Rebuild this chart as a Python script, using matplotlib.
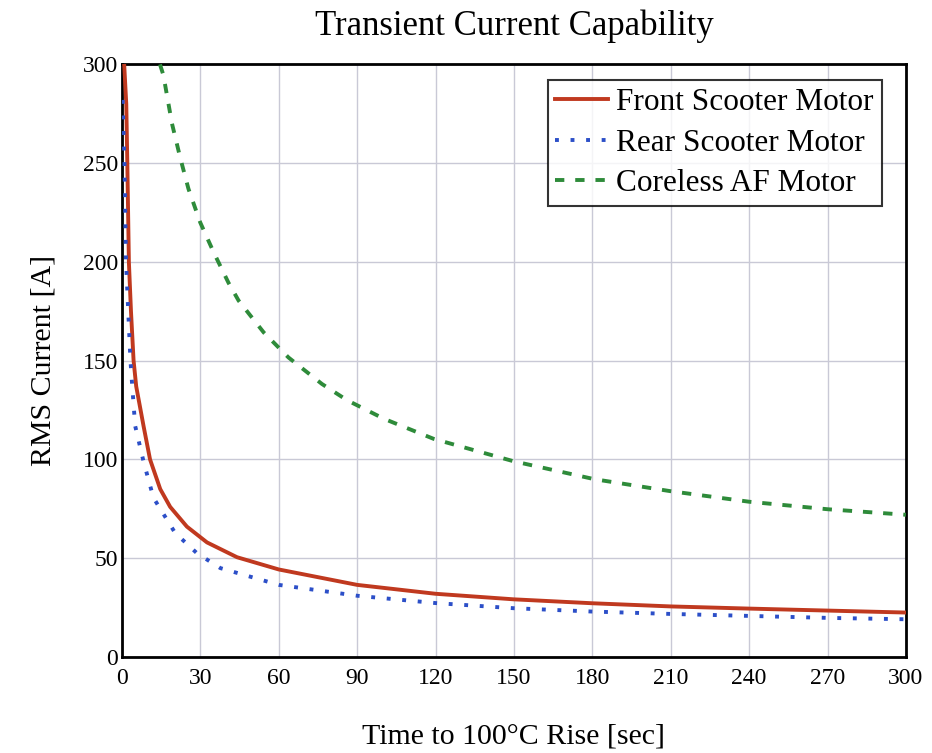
import matplotlib
matplotlib.use("Agg")
import matplotlib.pyplot as plt

plt.rcParams['font.family'] = ['Liberation Serif', 'DejaVu Serif']

# Front Scooter Motor (red, solid)
t_front = [0.8, 1.6, 2.0, 2.6, 3.4, 4.4, 5.4, 8.2, 10.7, 14.6, 18.4, 24.8, 32.5,
           44.0, 60.0, 90.0, 120.0, 149.8, 180.0, 210.0, 240.0, 270.0, 300.0]
i_front = [300, 280, 250, 200, 175, 150, 137, 117, 100, 85, 76, 66, 58,
           50.5, 44.3, 36.5, 32.0, 29.2, 27.2, 25.6, 24.5, 23.5, 22.5]

# Rear Scooter Motor (blue, dotted)
t_rear = [0.2, 0.9, 1.5, 3.2, 4.0, 5.0, 8.2, 12.0, 20.3, 28.6, 37.6,
          60.0, 90.0, 120.0, 149.8, 180.0, 210.0, 240.0, 270.0, 300.0]
i_rear = [282, 250, 200, 150, 135, 117, 99, 80.6, 62.8, 52.6, 45.0,
          36.5, 31.0, 27.3, 24.7, 23.0, 21.8, 20.8, 19.8, 19.1]

# Coreless AF Motor (green, dashed)
t_af = [14.5, 15.8, 19.1, 22.2, 25.4, 29.9, 35.0, 40.7, 44.6, 54.2, 63.7,
        76.5, 86.1, 100.2, 119.3, 149.8, 180.8, 209.6, 240.0, 270.0, 300.0]
i_af = [300, 294.6, 270, 253, 237, 220, 205, 189.5, 180.4, 164.3, 151.6,
        138.2, 130.0, 120.6, 110.4, 99.1, 90.0, 84.0, 78.6, 74.8, 72.0]

labels = ["Front Scooter Motor", "Rear Scooter Motor", "Coreless AF Motor"]
x_ticks = list(range(0, 301, 30))
y_ticks = list(range(0, 301, 50))

fig = plt.figure(figsize=(9.32, 7.53), dpi=100)
ax = fig.add_axes([0.131, 0.1275, 0.841, 0.787])

ax.plot(t_front, i_front, color='#c0391f', lw=2.8, ls='-', label=labels[0], zorder=3)
ax.plot(t_rear, i_rear, color='#2c4fc8', lw=2.8, ls=(0, (1, 3.0)), label=labels[1], zorder=3)
ax.plot(t_af, i_af, color='#2e8b3a', lw=2.8, ls=(0, (2.4, 2.8)), label=labels[2], zorder=3)

ax.set_xlim(0, 300)
ax.set_ylim(0, 300)
ax.set_xticks(x_ticks)
ax.set_yticks(y_ticks)
ax.grid(True, color='#c9c9d6', lw=1.0)
ax.set_axisbelow(True)
ax.tick_params(axis='x', length=0, labelsize=17, pad=8)
ax.tick_params(axis='y', length=0, labelsize=17, pad=3)
for s in ax.spines.values():
    s.set_color('black')
    s.set_linewidth(2)

ax.set_title("Transient Current Capability", fontsize=25, pad=21)
ax.set_xlabel("Time to 100°C Rise [sec]", fontsize=21.5, labelpad=25)
ax.set_ylabel("RMS Current [A]", fontsize=21.5, labelpad=19)

leg = ax.legend(loc='upper right', bbox_to_anchor=(0.969, 0.973), fontsize=22.5,
                frameon=True, fancybox=False, edgecolor='black',
                handlelength=1.7, borderaxespad=0, labelspacing=0.37,
                handletextpad=0.25, borderpad=0.25)
leg.get_frame().set_linewidth(1.5)

fig.savefig("out.png", dpi=100, facecolor='white')
